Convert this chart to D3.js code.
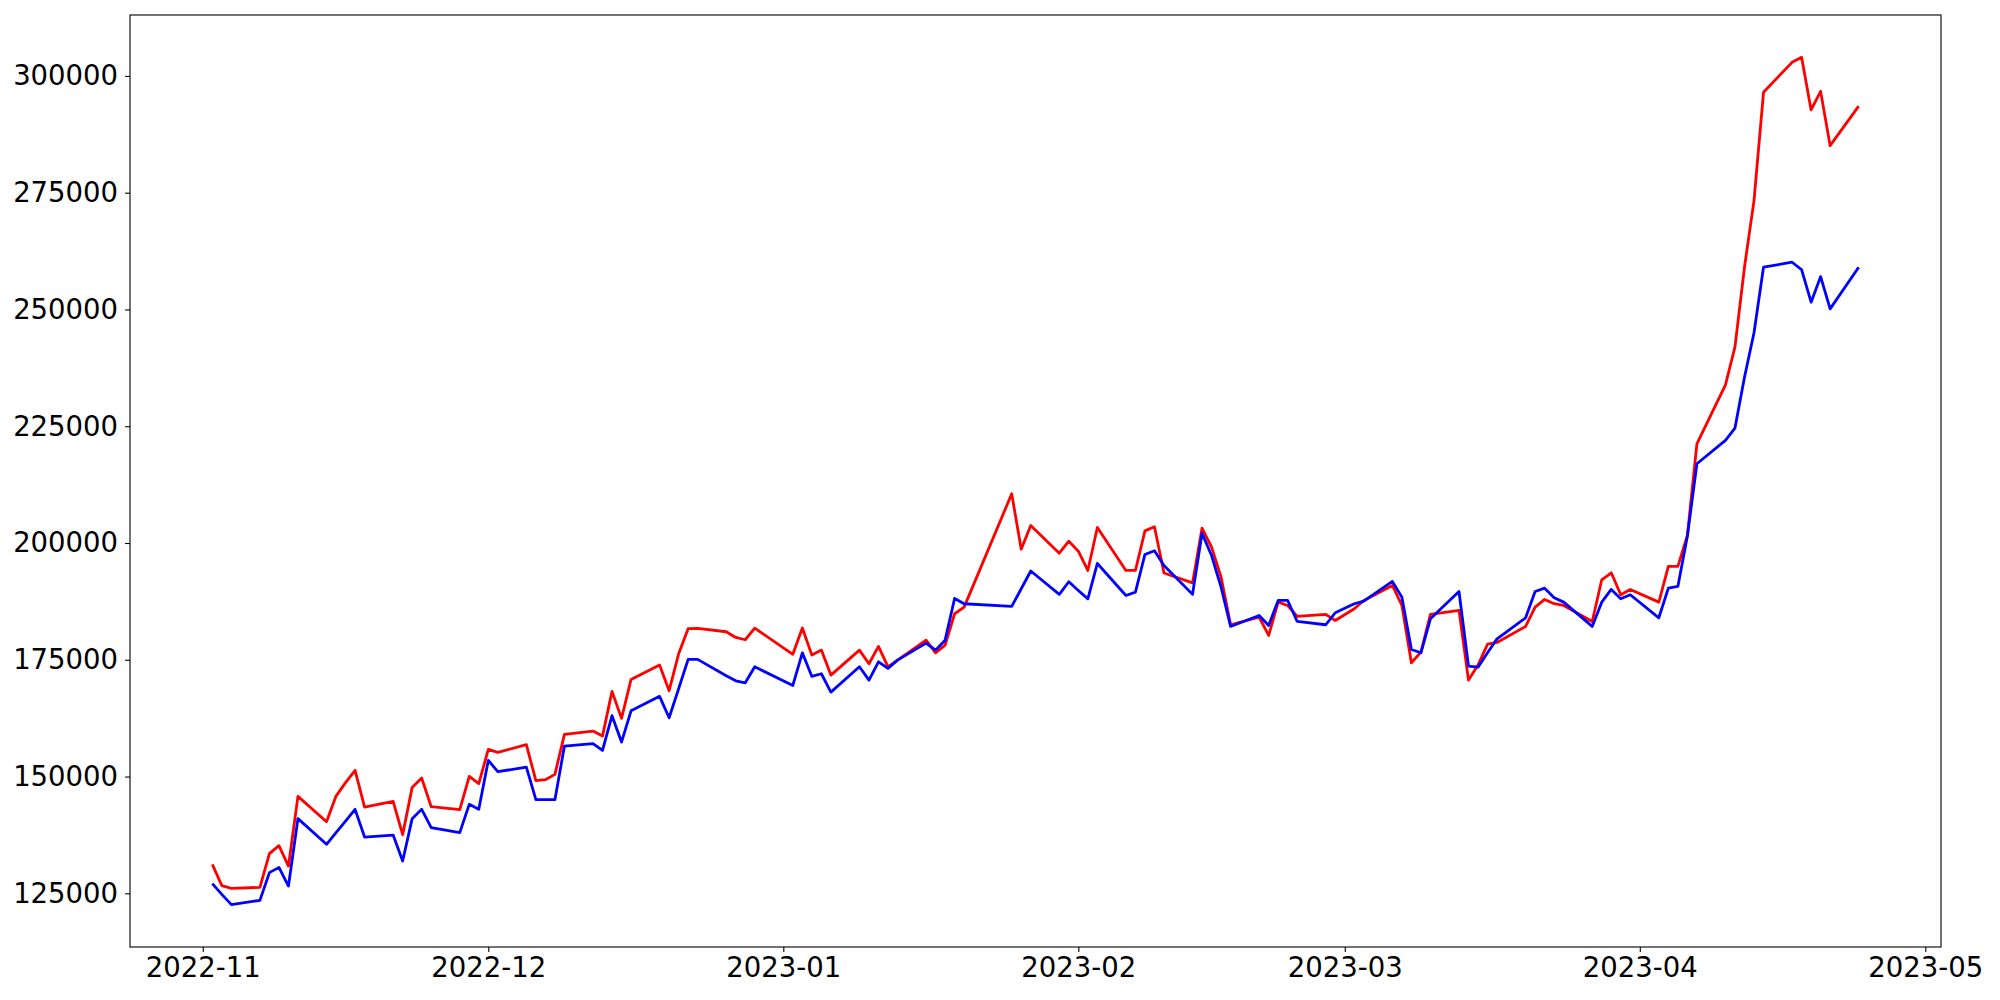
<!DOCTYPE html>
<html>
<head>
<meta charset="utf-8">
<script src="https://cdn.jsdelivr.net/npm/d3@7"></script>
<style>
  html, body { margin: 0; padding: 0; background: #fff; }
  svg { display: block; }
  text { font-family: "DejaVu Sans", sans-serif; }
</style>
</head>
<body>
<svg id="chart" width="2000" height="1000"></svg>
<script>
// ---- data ----
const dates = [
  "2022-11-02","2022-11-03","2022-11-04","2022-11-07","2022-11-08","2022-11-09","2022-11-10","2022-11-11",
  "2022-11-14","2022-11-15","2022-11-16","2022-11-17","2022-11-18","2022-11-21","2022-11-22","2022-11-23",
  "2022-11-24","2022-11-25","2022-11-28","2022-11-29","2022-11-30",
  "2022-12-01","2022-12-02","2022-12-05","2022-12-06","2022-12-07","2022-12-08","2022-12-09","2022-12-12",
  "2022-12-13","2022-12-14","2022-12-15","2022-12-16","2022-12-19","2022-12-20","2022-12-21","2022-12-22",
  "2022-12-23","2022-12-26","2022-12-27","2022-12-28","2022-12-29",
  "2023-01-02","2023-01-03","2023-01-04","2023-01-05","2023-01-06","2023-01-09","2023-01-10","2023-01-11",
  "2023-01-12","2023-01-13","2023-01-16","2023-01-17","2023-01-18","2023-01-19","2023-01-20","2023-01-25",
  "2023-01-26","2023-01-27","2023-01-30","2023-01-31",
  "2023-02-01","2023-02-02","2023-02-03","2023-02-06","2023-02-07","2023-02-08","2023-02-09","2023-02-10",
  "2023-02-13","2023-02-14","2023-02-15","2023-02-16","2023-02-17","2023-02-20","2023-02-21","2023-02-22",
  "2023-02-23","2023-02-24","2023-02-27","2023-02-28",
  "2023-03-02","2023-03-03","2023-03-06","2023-03-07","2023-03-08","2023-03-09","2023-03-10","2023-03-13",
  "2023-03-14","2023-03-15","2023-03-16","2023-03-17","2023-03-20","2023-03-21","2023-03-22","2023-03-23",
  "2023-03-24","2023-03-27","2023-03-28","2023-03-29","2023-03-30","2023-03-31",
  "2023-04-03","2023-04-04","2023-04-05","2023-04-06","2023-04-07","2023-04-10","2023-04-11","2023-04-12",
  "2023-04-13","2023-04-14","2023-04-17","2023-04-18","2023-04-19","2023-04-20","2023-04-21","2023-04-24"
];

const seriesRed = [
  131200,126650,126070,126280,133500,135200,130840,145760,
  140340,145820,148690,151320,143470,144690,137560,147680,
  149670,143550,142910,150040,148480,
  155820,155170,156820,149120,149330,150470,159030,159730,
  158660,168230,162450,170800,173860,168380,176280,181650,
  181710,181000,179780,179290,181770,
  176170,181800,176000,177070,171720,177070,174150,177860,
  173500,174930,179200,176490,178140,184860,186270,210540,
  198680,203750,197820,200390,
  198250,194120,203320,194120,194120,202600,203470,193590,
  191450,203180,199110,192690,182500,184130,180210,187340,
  186630,184280,184710,183420,
  185930,187700,190910,186630,174370,176640,184710,185570,
  170650,173860,178350,178710,182140,186270,187920,187000,
  186630,183200,192130,193630,188920,190060,
  187340,195000,195000,201600,221240,233870,242000,259040,
  273300,296500,302900,303970,292710,296690,285070,293540
];

const seriesBlue = [
  127080,124790,122580,123500,129430,130560,126560,140990,
  135490,138000,140470,142980,137050,137480,131910,140990,
  142980,139060,137990,144050,142980,
  153460,151040,152030,145050,145050,145050,156520,157040,
  155600,163030,157380,164080,167170,162590,168800,175080,
  175080,171570,170500,170070,173500,
  169500,176490,171440,172010,168080,173500,170650,174560,
  173150,174930,178570,177070,179200,188130,187000,186420,
  190200,194000,189000,191700,
  189840,188050,195620,188770,189480,197550,198350,195200,
  189000,202100,197330,190550,182140,184490,182350,187700,
  187700,183200,182500,185070,
  187000,187560,191770,188410,177210,176500,183780,189620,
  173640,173430,176500,179490,183990,189620,190330,188270,
  187340,182140,187340,190060,188060,188920,
  183990,190330,190690,201500,216960,221960,224600,235500,
  245000,259040,260110,258540,251550,257030,250130,259040
];

const yTickValues = [125000,150000,175000,200000,225000,250000,275000,300000];
const xTickMonths = ["2022-11","2022-12","2023-01","2023-02","2023-03","2023-04","2023-05"];

// ---- layout ----
const W = 2000, H = 1000;
const plot = { left: 130, right: 1941, top: 15, bottom: 947 };
const fontSize = 27.5;

const parse = d3.utcParse("%Y-%m-%d");
const parseMonth = d3.utcParse("%Y-%m");
const t = dates.map(parse);

const [t0, t1] = d3.extent(t);
const span = t1 - t0;
const x = d3.scaleUtc()
  .domain([new Date(+t0 - 0.05 * span), new Date(+t1 + 0.05 * span)])
  .range([plot.left, plot.right]);

const allVals = seriesRed.concat(seriesBlue);
const [v0, v1] = d3.extent(allVals);
const vs = v1 - v0;
const y = d3.scaleLinear()
  .domain([v0 - 0.05 * vs, v1 + 0.05 * vs])
  .range([plot.bottom, plot.top]);

const svg = d3.select("#chart");

// lines
const line = d3.line()
  .x((d, i) => x(t[i]))
  .y(d => y(d));

svg.append("path")
  .datum(seriesRed)
  .attr("fill", "none")
  .attr("stroke", "#ff0000")
  .attr("stroke-width", 2.8)
  .attr("stroke-linejoin", "round")
  .attr("d", line);

svg.append("path")
  .datum(seriesBlue)
  .attr("fill", "none")
  .attr("stroke", "#0000ff")
  .attr("stroke-width", 2.8)
  .attr("stroke-linejoin", "round")
  .attr("d", line);

// axes
const xAxis = d3.axisBottom(x)
  .tickValues(xTickMonths.map(parseMonth))
  .tickFormat(d3.utcFormat("%Y-%m"))
  .tickSize(4.9)
  .tickPadding(6);

const yAxis = d3.axisLeft(y)
  .tickValues(yTickValues)
  .tickFormat(d3.format("d"))
  .tickSize(4.9)
  .tickPadding(7);

const gx = svg.append("g")
  .attr("transform", `translate(0,${plot.bottom})`)
  .call(xAxis);
const gy = svg.append("g")
  .attr("transform", `translate(${plot.left},0)`)
  .call(yAxis);

[gx, gy].forEach(g => {
  g.select(".domain").remove();
  g.selectAll(".tick line").attr("stroke", "#000").attr("stroke-width", 1.1);
  g.selectAll(".tick text")
    .attr("fill", "#000")
    .style("font-family", "'DejaVu Sans', sans-serif")
    .style("font-size", fontSize + "px");
});

// frame
svg.append("rect")
  .attr("x", plot.left)
  .attr("y", plot.top)
  .attr("width", plot.right - plot.left)
  .attr("height", plot.bottom - plot.top)
  .attr("fill", "none")
  .attr("stroke", "#000")
  .attr("stroke-width", 1.1);
</script>
</body>
</html>
